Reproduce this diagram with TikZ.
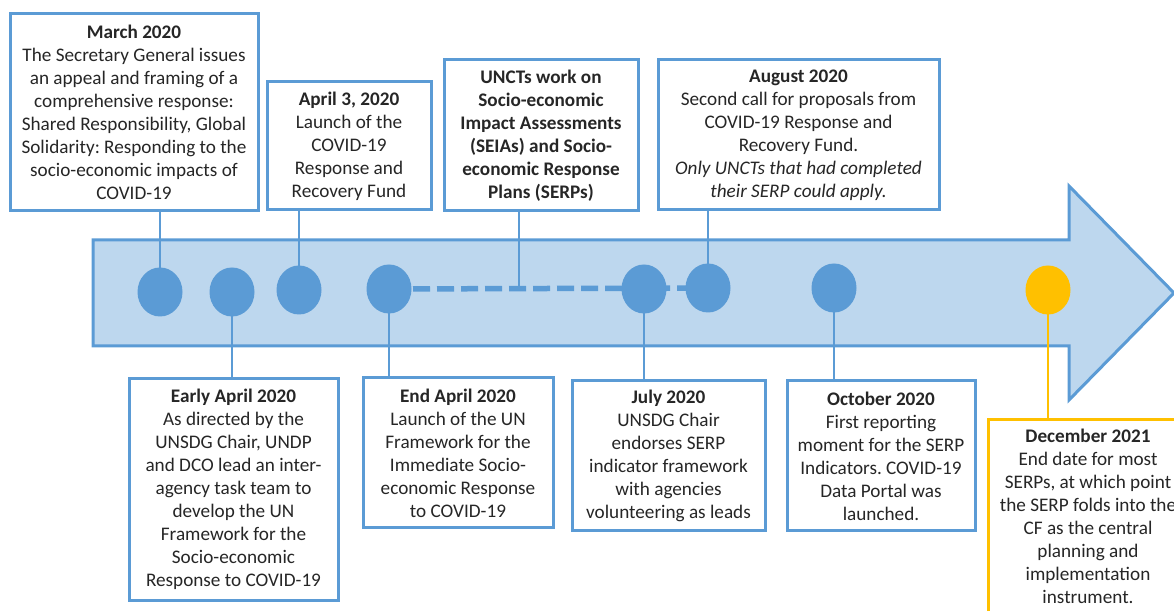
\documentclass[tikz,border=0pt]{standalone}
\usepackage{fontspec}
\setmainfont{Carlito}
\frenchspacing
\usetikzlibrary{shapes.geometric}
\definecolor{ublue}{HTML}{5B9BD5}
\definecolor{ulight}{HTML}{BDD7EE}
\definecolor{uyellow}{HTML}{FFC000}
\definecolor{utext}{HTML}{262626}
\tikzset{
  evbox/.style={draw=ublue, line width=3pt, fill=white, align=center, inner sep=0pt,
    text=utext, font=\fontsize{19.2}{23}\selectfont\frenchspacing},
  dot/.style={ellipse, fill=ublue, minimum width=45pt, minimum height=49pt, inner sep=0pt},
  conn/.style={draw=ublue, line width=2.5pt},
}
\begin{document}
\begin{tikzpicture}[x=1pt,y=1pt]
\useasboundingbox (0,0) rectangle (1174,610);
\clip (0,0) rectangle (1174,610);
% arrow
\draw[draw=ublue, fill=ulight, line width=3pt, line join=miter]
  (93,370) -- (1069,370) -- (1069,424) -- (1174,317) -- (1069,210) -- (1069,264) -- (93,264) -- cycle;
% circle positions
\coordinate (p1) at (160,318);
\coordinate (p2) at (232,318);
\coordinate (p3) at (299,320);
\coordinate (p4) at (389,321);
\coordinate (p5) at (644,321);
\coordinate (p6) at (708,322);
\coordinate (p7) at (834,322);
\coordinate (p8) at (1048,320);
% boxes
\node[evbox, minimum width=248pt, minimum height=197pt] (march) at (134,497.5)
  {\textbf{March 2020}\\The Secretary General issues\\an appeal and framing of a\\comprehensive response:\\Shared Responsibility, Global\\Solidarity: Responding to the\\socio-economic impacts of\\COVID-19};
\node[evbox, minimum width=164pt, minimum height=128pt] (apr3) at (349,464)
  {\textbf{April 3, 2020}\\Launch of the\\COVID-19\\Response and\\Recovery Fund};
\node[evbox, minimum width=194pt, minimum height=151pt, font=\fontsize{19.2}{23}\selectfont\bfseries] (unct) at (541,474.5)
  {UNCTs work on\\Socio-economic\\Impact Assessments\\(SEIAs) and Socio-\\economic Response\\Plans (SERPs)};
\node[evbox, minimum width=281pt, minimum height=150pt] (aug) at (798.5,475)
  {\textbf{August 2020}\\Second call for proposals from\\COVID-19 Response and\\Recovery Fund.\\\textit{Only UNCTs that had completed}\\\textit{their SERP could apply.}};
\node[evbox, minimum width=209pt, minimum height=221pt] (early) at (233.5,120.5)
  {\textbf{Early April 2020}\\As directed by the\\UNSDG Chair, UNDP\\and DCO lead an inter-\\agency task team to\\develop the UN\\Framework for the\\Socio-economic\\Response to COVID-19};
\node[evbox, minimum width=190pt, minimum height=150pt] (endapr) at (458,157)
  {\textbf{End April 2020}\\Launch of the UN\\Framework for the\\Immediate Socio-\\economic Response\\to COVID-19};
\node[evbox, minimum width=193pt, minimum height=150pt] (july) at (668.5,154)
  {\textbf{July 2020}\\UNSDG Chair\\endorses SERP\\indicator framework\\with agencies\\volunteering as leads};
\node[evbox, minimum width=188pt, minimum height=150pt] (oct) at (881,154)
  {\textbf{October 2020}\\First reporting\\moment for the SERP\\Indicators. COVID-19\\Data Portal was\\launched.};
\node[evbox, draw=uyellow, minimum width=200pt, minimum height=192pt] (dec) at (1088,94)
  {\textbf{December 2021}\\End date for most\\SERPs, at which point\\the SERP folds into the\\CF as the central\\planning and\\implementation\\instrument.};
% dashed line
\draw[draw=ublue, line width=5.5pt, dash pattern=on 17pt off 7pt] (p4) -- (p6);
\coordinate (dmid) at (519,321);
% connectors
\draw[conn] (p1 |- march.south) -- (p1);
\draw[conn] (p3 |- apr3.south) -- (p3);
\draw[conn] (dmid |- unct.south) -- (dmid);
\draw[conn] (p6 |- aug.south) -- (p6);
\draw[conn] (p2) -- (p2 |- early.north);
\draw[conn] (p4) -- (p4 |- endapr.north);
\draw[conn] (p5) -- (p5 |- july.north);
\draw[conn] (p7) -- (p7 |- oct.north);
\draw[draw=uyellow, line width=2.5pt] (p8) -- (p8 |- dec.north);
% circles
\node[dot] (c1) at (p1) {};
\node[dot] (c2) at (p2) {};
\node[dot] (c3) at (p3) {};
\node[dot] (c4) at (p4) {};
\node[dot] (c5) at (p5) {};
\node[dot] (c6) at (p6) {};
\node[dot] (c7) at (p7) {};
\node[dot, fill=uyellow] (c8) at (p8) {};
\end{tikzpicture}
\end{document}
